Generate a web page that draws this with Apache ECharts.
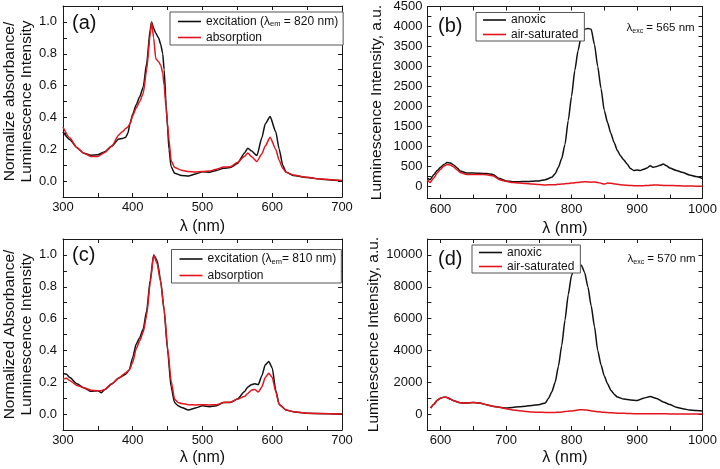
<!DOCTYPE html>
<html>
<head>
<meta charset="utf-8">
<script src="https://cdn.jsdelivr.net/npm/echarts@6.0.0/dist/echarts.min.js"></script>
<style>html,body{margin:0;padding:0;background:#fff}#c{width:720px;height:469px}</style>
</head>
<body>
<div id="c"></div>
<script>
// ---------- Panel (a): excitation (λem = 820 nm) vs absorption ----------
const aWl  = [300,310,320,330,340,350,360,370,380,385,390,393,396,400,405,410,415,420,425,427,430,433,437,440,443,445,448,450,452,455,460,470,480,490,500,510,520,530,540,550,560,565,570,578,585,590,597,605,610,615,620,630,650,670,700];
const aExc = [0.31,0.26,0.21,0.175,0.163,0.165,0.185,0.22,0.265,0.268,0.275,0.30,0.36,0.42,0.48,0.53,0.59,0.74,0.95,1.0,0.96,0.93,0.9,0.86,0.8,0.7,0.47,0.33,0.2,0.09,0.05,0.035,0.032,0.045,0.058,0.056,0.067,0.08,0.085,0.11,0.175,0.207,0.19,0.16,0.27,0.36,0.405,0.31,0.2,0.1,0.055,0.035,0.022,0.012,0.002];
const aAbs = [0.34,0.27,0.21,0.175,0.155,0.155,0.18,0.22,0.29,0.31,0.33,0.34,0.36,0.41,0.46,0.50,0.55,0.70,0.92,1.0,0.9,0.77,0.75,0.73,0.68,0.6,0.45,0.36,0.26,0.13,0.085,0.068,0.06,0.057,0.06,0.063,0.075,0.088,0.09,0.117,0.155,0.176,0.155,0.123,0.17,0.22,0.276,0.2,0.13,0.08,0.055,0.038,0.024,0.013,0.003];

// ---------- Panel (b): luminescence, λexc = 565 nm ----------
const bWl   = [580,584,590,595,600,605,610,615,620,625,630,640,650,660,670,680,690,700,710,720,730,740,750,760,770,775,780,785,790,795,800,805,810,815,820,825,830,835,840,845,850,855,860,865,870,875,880,885,890,895,900,905,910,915,920,925,930,935,940,945,950,960,970,980,990,1000];
const bAnox = [210,170,300,400,480,550,600,590,540,470,390,335,335,330,322,300,200,140,120,120,125,130,140,170,230,320,480,700,1050,1650,2250,2900,3400,3780,3930,3950,3930,3550,3000,2450,1900,1600,1330,1100,900,760,660,560,450,400,410,400,430,460,517,480,500,530,560,520,460,400,350,290,250,200];
const bAir  = [160,100,220,340,430,510,550,540,490,420,350,300,300,300,295,270,170,130,100,90,75,62,50,40,42,45,55,60,70,75,85,95,100,110,120,115,108,115,100,80,60,85,80,65,55,45,35,30,25,20,17,18,20,25,30,35,40,30,28,25,25,20,15,12,8,5];

// ---------- Panel (c): excitation (λem = 810 nm) vs absorption ----------
const cWl  = [300,305,310,320,330,340,350,355,360,370,380,390,395,400,405,410,415,420,425,430,435,440,445,450,455,460,465,470,480,490,500,510,520,530,540,550,560,565,570,575,580,585,590,595,600,605,610,620,630,650,700];
const cExc = [0.255,0.25,0.23,0.19,0.165,0.143,0.147,0.134,0.155,0.19,0.226,0.25,0.277,0.356,0.44,0.48,0.535,0.65,0.84,1.0,0.965,0.84,0.65,0.40,0.17,0.073,0.052,0.042,0.025,0.038,0.052,0.046,0.052,0.073,0.073,0.094,0.14,0.17,0.185,0.19,0.185,0.24,0.31,0.33,0.29,0.15,0.06,0.025,0.015,0.006,0.0];
const cAbs = [0.22,0.225,0.21,0.18,0.165,0.15,0.147,0.147,0.155,0.19,0.226,0.26,0.277,0.325,0.41,0.46,0.515,0.62,0.82,1.0,0.945,0.83,0.66,0.42,0.21,0.094,0.073,0.067,0.059,0.057,0.059,0.057,0.059,0.073,0.075,0.094,0.11,0.13,0.15,0.155,0.138,0.17,0.23,0.256,0.23,0.14,0.06,0.025,0.015,0.006,0.0];

// ---------- Panel (d): luminescence, λexc = 570 nm ----------
const dWl   = [585,590,595,600,605,610,615,620,630,640,650,660,670,680,690,700,710,720,730,740,750,760,765,770,775,780,785,790,795,800,805,810,815,820,825,830,835,840,845,850,855,860,865,870,880,890,900,910,920,930,940,950,960,970,980,990,1000];
const dAnox = [380,620,870,1000,1065,1045,945,840,710,690,730,690,590,500,430,380,420,460,500,545,590,700,1000,1400,2000,3000,4300,5900,7500,8700,9300,9480,9350,8900,8000,6800,5500,4000,3100,2400,1900,1500,1250,1070,940,880,850,1000,1100,980,760,600,430,330,260,220,190];
const dAir  = [380,620,870,1000,1065,1045,945,840,710,690,730,690,590,500,430,340,260,210,170,130,110,105,100,100,105,110,130,160,180,200,230,260,270,260,240,200,175,150,130,110,95,85,70,60,45,30,25,22,20,18,15,12,10,7,5,3,0];

// ---------- Axis ticks / labels ----------
const absTicksX  = [300,350,400,450,500,550,600,650,700];
const absLabelsX = [300,400,500,600,700];
const absTicksY  = [0,0.1,0.2,0.3,0.4,0.5,0.6,0.7,0.8,0.9,1.0];
const absLabelsY = [0,0.2,0.4,0.6,0.8,1.0];
const lumTicksX  = [600,650,700,750,800,850,900,950,1000];
const lumLabelsX = [600,700,800,900,1000];
const bTicksY  = [0,250,500,750,1000,1250,1500,1750,2000,2250,2500,2750,3000,3250,3500,3750,4000,4250,4500];
const bLabelsY = [0,500,1000,1500,2000,2500,3000,3500,4000,4500];
const dTicksY  = [0,1000,2000,3000,4000,5000,6000,7000,8000,9000,10000];
const dLabelsY = [0,2000,4000,6000,8000,10000];

const FONT = '"Liberation Sans", Arial, Helvetica, sans-serif';
const BLACK = '#111111', RED = '#e3141c', AXC = '#1a1a1a';

function pairs(xs, ys){ return xs.map((x,i)=>[x, ys[i]]); }

const grids = [
  {left: 62,    top: 6,   width: 280,   height: 191},
  {left: 427.4, top: 6.5, width: 279.3, height: 192},
  {left: 62,    top: 239, width: 280,   height: 191},
  {left: 427.4, top: 239, width: 279.3, height: 191}
];

const xAxis = [], yAxis = [];
function addX(gi, min, max, ticks, labels, gap){
  const base = {type:'value', gridIndex: gi, min, max, splitLine:{show:false},
    axisLine:{onZero:false, lineStyle:{color:AXC, width:1}},
    axisTick:{inside:true, length:4, customValues:ticks, lineStyle:{color:AXC}}};
  xAxis.push(Object.assign({}, base, {position:'bottom',
    axisLabel:{customValues:labels, margin:4, color:'#111', fontSize:13, fontFamily:FONT, formatter:v=>String(v)},
    name:'λ (nm)', nameLocation:'middle', nameGap:gap,
    nameTextStyle:{fontSize:16, color:'#111', fontFamily:FONT}}));
  const bi = xAxis.length-1;
  xAxis.push(Object.assign({}, base, {position:'top', axisLabel:{show:false}}));
  return bi;
}
function addY(gi, min, max, ticks, labels, fmt, name, gap, margin){
  const base = {type:'value', gridIndex: gi, min, max, splitLine:{show:false},
    axisLine:{onZero:false, lineStyle:{color:AXC, width:1}},
    axisTick:{inside:true, length:4, customValues:ticks, lineStyle:{color:AXC}}};
  yAxis.push(Object.assign({}, base, {position:'left',
    axisLabel:{customValues:labels, margin:margin, color:'#111', fontSize:13, fontFamily:FONT, formatter:fmt},
    name:name, nameLocation:'middle', nameGap:gap,
    nameTextStyle:{fontSize:15.5, lineHeight:17, color:'#111', fontFamily:FONT}}));
  const bi = yAxis.length-1;
  yAxis.push(Object.assign({}, base, {position:'right', axisLabel:{show:false}}));
  return bi;
}
const f1 = v => v.toFixed(1);
const f0 = v => String(Math.round(v));

const xa = addX(0, 300, 700, absTicksX, absLabelsX, 22);
const ya = addY(0, -0.1, 1.1, absTicksY, absLabelsY, f1, 'Normalize absorbance/\nLuminescence Intensity', 27, 6);
const xb = addX(1, 580, 1000, lumTicksX, lumLabelsX, 22);
const yb = addY(1, -300, 4500, bTicksY, bLabelsY, f0, 'Luminescence Intensity, a.u.', 42, 5);
const xc = addX(2, 300, 700, absTicksX, absLabelsX, 20);
const yc = addY(2, -0.1, 1.1, absTicksY, absLabelsY, f1, 'Normalized Absorbance/\nLuminescence Intensity', 27, 6);
const xd = addX(3, 580, 1000, lumTicksX, lumLabelsX, 20);
const yd = addY(3, -1000, 11000, dTicksY, dLabelsY, f0, 'Luminescence Intensity, a.u.', 42, 5);

const EXC_A = 'excitation (λem = 820 nm)';
const EXC_C = 'excitation (λem= 810 nm)';
function line(name, xi, yi, data, color){
  return {type:'line', name, xAxisIndex:xi, yAxisIndex:yi, data, showSymbol:false, symbol:'none',
    smooth:0.2, smoothMonotone:'x', lineStyle:{color, width:1.5}, itemStyle:{color}, animation:false, z:3};
}
const series = [
  line(EXC_A, xa, ya, pairs(aWl, aExc), BLACK),
  line('absorption', xa, ya, pairs(aWl, aAbs), RED),
  line('anoxic', xb, yb, pairs(bWl, bAnox), BLACK),
  line('air-saturated', xb, yb, pairs(bWl, bAir), RED),
  line(EXC_C, xc, yc, pairs(cWl, cExc), BLACK),
  line('absorption', xc, yc, pairs(cWl, cAbs), RED),
  line('anoxic', xd, yd, pairs(dWl, dAnox), BLACK),
  line('air-saturated', xd, yd, pairs(dWl, dAir), RED)
];

const legRich = {
  n:{fontSize:12, lineHeight:13, fontFamily:FONT, fontWeight:'normal', color:'#111'},
  s:{fontSize:7.5, lineHeight:13, verticalAlign:'bottom', fontFamily:FONT, fontWeight:'normal', color:'#111'}
};
function legendFmt(name){
  if (name === EXC_A) return '{n|excitation (λ}{s|em}{n| = 820 nm)}';
  if (name === EXC_C) return '{n|excitation (λ}{s|em}{n|= 810 nm)}';
  return '{n|' + name + '}';
}
function leg(data, left, top, padding, gap){
  return {data, left, top, orient:'vertical', padding, itemGap:gap, icon:'rect',
    itemWidth:23, itemHeight:1.6, borderColor:'#555', borderWidth:1, backgroundColor:'#fff',
    selectedMode:false, formatter:legendFmt, textStyle:{rich:legRich, fontSize:12, lineHeight:13, fontWeight:'normal'}};
}
const legend = [
  leg([EXC_A,'absorption'], 170, 12, [3,5,1,8], 3),
  leg(['anoxic','air-saturated'], 476, 12.5, [1,6,0,7], 1.5),
  leg([EXC_C,'absorption'], 171.5, 249.5, [3,5,1,8], 3.5),
  leg(['anoxic','air-saturated'], 472, 245, [1,6,0,7], 1)
];

const tRich = {
  n:{fontSize:11.5, lineHeight:14, fontFamily:FONT, fontWeight:'normal', color:'#111'},
  s:{fontSize:7, lineHeight:14, verticalAlign:'bottom', fontFamily:FONT, fontWeight:'normal', color:'#111'}
};
function panelLabel(t, left, top){
  return {text:t, left, top, padding:0, textStyle:{fontSize:20, fontWeight:'normal', color:'#111', fontFamily:FONT}};
}
function excLabel(nm, left, top){
  return {text:'{n|λ}{s|exc}{n| = ' + nm + ' nm}', left, top, padding:0,
    textStyle:{rich:tRich, fontWeight:'normal', fontSize:11.5, fontFamily:FONT, color:'#111'}};
}
const title = [
  panelLabel('(a)', 72, 13), panelLabel('(b)', 438, 16.5),
  panelLabel('(c)', 72, 245.5), panelLabel('(d)', 438, 249),
  excLabel('565', 626.5, 21), excLabel('570', 627.5, 252)
];

const chart = echarts.init(document.getElementById('c'), null, {renderer:'canvas'});
chart.setOption({animation:false, backgroundColor:'#fff', grid:grids, xAxis, yAxis, series, legend, title});
</script>
</body>
</html>
